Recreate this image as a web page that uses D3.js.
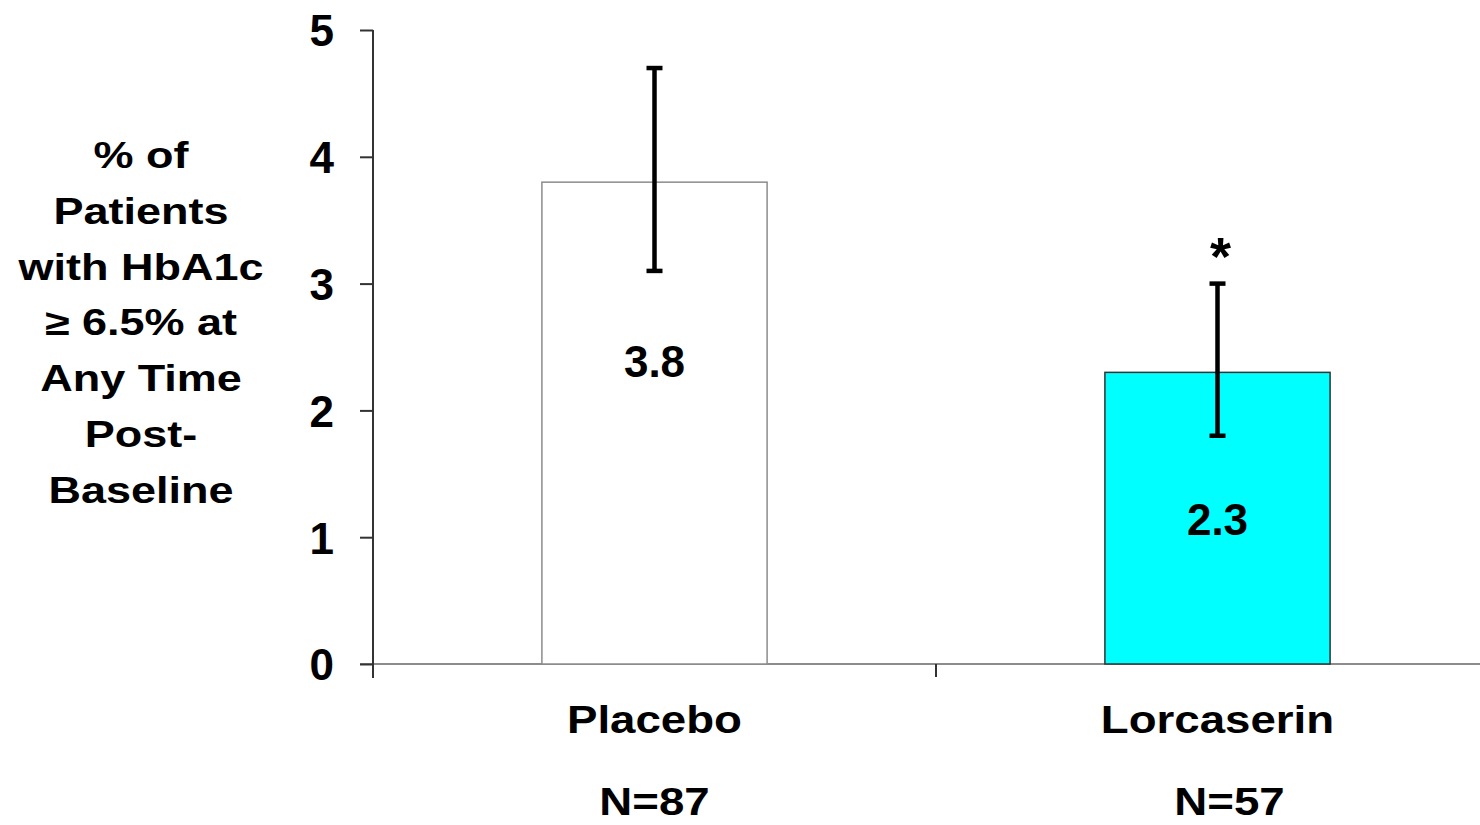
<!DOCTYPE html>
<html>
<head>
<meta charset="utf-8">
<script src="https://cdn.jsdelivr.net/npm/d3@7"></script>
<style>
  html, body { margin: 0; padding: 0; background: #fff; }
  svg { display: block; }
  text { font-family: "Liberation Sans", Arial, sans-serif; font-weight: bold; fill: #000; }
</style>
</head>
<body>
<svg id="chart" width="1480" height="825"></svg>
<script>
// Groups, sample sizes and results
const groups = ["Placebo", "Lorcaserin"];
const sampleSizes = ["N=87", "N=57"];
const percents = [3.8, 2.3];
const errLow = [3.1, 1.8];
const errHigh = [4.7, 3.0];
const significance = ["", "*"];
const barFills = ["#ffffff", "#00ffff"];
const barStrokes = ["#8c8c8c", "#333333"];
const yTicks = [0, 1, 2, 3, 4, 5];
const yTitleLines = ["% of", "Patients", "with HbA1c", "\u2265 6.5% at", "Any Time", "Post-", "Baseline"];

const svg = d3.select("#chart");

const y = d3.scaleLinear().domain([0, 5]).range([664, 30]);
const x = d3.scaleBand().domain(groups).range([373, 1499])
  .paddingInner(0.6).paddingOuter(0.3);

// Horizontal axis line and category boundary ticks
svg.append("line")
  .attr("x1", x.range()[0] - 13).attr("x2", 1480)
  .attr("y1", y(0)).attr("y2", y(0))
  .attr("stroke", "#8c8c8c").attr("stroke-width", 2);

const step = x.step();
svg.selectAll(".xtick").data(d3.range(groups.length))
  .join("line")
  .attr("class", "xtick")
  .attr("x1", i => x.range()[0] + i * step)
  .attr("x2", i => x.range()[0] + i * step)
  .attr("y1", y(0)).attr("y2", y(0) + 13)
  .attr("stroke", "#333").attr("stroke-width", 2);

// Bars
svg.selectAll(".bar").data(groups)
  .join("rect")
  .attr("class", "bar")
  .attr("x", d => x(d))
  .attr("width", x.bandwidth())
  .attr("y", (d, i) => y(percents[i]))
  .attr("height", (d, i) => y(0) - y(percents[i]))
  .attr("fill", (d, i) => barFills[i])
  .attr("stroke", (d, i) => barStrokes[i])
  .attr("stroke-width", 1.5);

// Vertical axis
const yAxis = d3.axisLeft(y).tickValues(yTicks).tickSize(13).tickPadding(26)
  .tickFormat(d3.format("d"));
const gy = svg.append("g").attr("transform", `translate(${x.range()[0]},0)`).call(yAxis);
gy.select(".domain").remove();
gy.selectAll(".tick line").attr("stroke", "#333").attr("stroke-width", 2);
gy.selectAll(".tick text")
  .attr("font-size", 44).attr("font-family", "Liberation Sans, Arial, sans-serif")
  .attr("font-weight", "bold").attr("fill", "#000").attr("dy", "0.36em");
svg.append("line")
  .attr("x1", x.range()[0]).attr("x2", x.range()[0])
  .attr("y1", y(5)).attr("y2", y(0) + 14)
  .attr("stroke", "#333").attr("stroke-width", 2);

// Error bars
const cx = d => x(d) + x.bandwidth() / 2;
const eb = svg.append("g").attr("stroke", "#000").attr("stroke-width", 4.5);
groups.forEach((g, i) => {
  eb.append("line").attr("x1", cx(g)).attr("x2", cx(g))
    .attr("y1", y(errLow[i])).attr("y2", y(errHigh[i]));
  [errLow[i], errHigh[i]].forEach(v => {
    eb.append("line").attr("x1", cx(g) - 8).attr("x2", cx(g) + 8)
      .attr("y1", y(v)).attr("y2", y(v));
  });
});

// Value labels inside bars (the placebo label sits higher, clear of the error bar)
const labelLift = [0.5, 0];
svg.selectAll(".val").data(groups)
  .join("text")
  .attr("class", "val")
  .attr("text-anchor", "middle")
  .attr("font-size", 44)
  .attr("transform", (d, i) => `translate(${cx(d)},${y(percents[i] / 2 + labelLift[i]) + 17})`)
  .text((d, i) => percents[i].toFixed(1));

// Significance marker
svg.selectAll(".sig").data(groups)
  .join("text")
  .attr("class", "sig")
  .attr("text-anchor", "middle")
  .attr("font-size", 54)
  .attr("transform", (d, i) => `translate(${cx(d) + 3},${y(errHigh[i]) - 9})`)
  .text((d, i) => significance[i]);

// Category labels and sample sizes
const nShift = [0, 12];
svg.selectAll(".cat").data(groups)
  .join("text")
  .attr("class", "cat")
  .attr("text-anchor", "middle")
  .attr("font-size", 39)
  .attr("transform", d => `translate(${cx(d)},${y(0) + 69}) scale(1.17,1)`)
  .text(d => d);

svg.selectAll(".n").data(groups)
  .join("text")
  .attr("class", "n")
  .attr("text-anchor", "middle")
  .attr("font-size", 39)
  .attr("transform", (d, i) => `translate(${cx(d) + nShift[i]},${y(0) + 151}) scale(1.17,1)`)
  .text((d, i) => sampleSizes[i]);

// Vertical axis title
svg.append("g").selectAll("text").data(yTitleLines)
  .join("text")
  .attr("text-anchor", "middle")
  .attr("font-size", 36)
  .attr("transform", (d, i) => `translate(141,${168 + i * 55.8}) scale(1.25,1)`)
  .text(d => d);
</script>
</body>
</html>
